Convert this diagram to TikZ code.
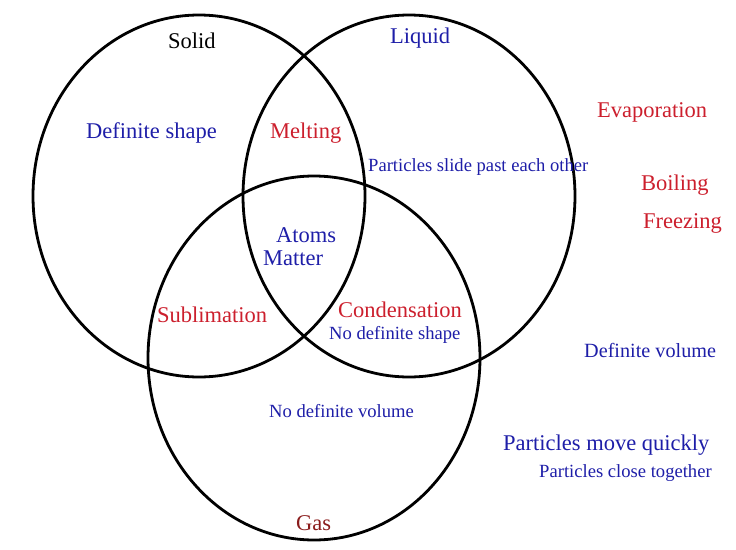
\documentclass[tikz,border=0pt]{standalone}
\usepackage{fontspec}
\usepackage{xcolor}
\usepackage{tikz}
\newfontfamily\timesfont{Liberation Serif}
\definecolor{lblblue}{HTML}{1E1EA8}
\definecolor{lblred}{HTML}{CC1F2D}
\definecolor{gasred}{HTML}{8A1C1C}

\tikzset{
  big/.style={anchor=base west, inner sep=0pt, font=\timesfont\fontsize{22.5}{24}\selectfont},
  small/.style={anchor=base west, inner sep=0pt, font=\timesfont\fontsize{18.6}{20}\selectfont},
  ring/.style={line width=2.8pt}
}

\begin{document}
\begin{tikzpicture}[x=1pt, y=-1pt]
  \useasboundingbox (0,0) rectangle (736,549);

  % the three sets
  \coordinate (solidC) at (199,196);
  \coordinate (liquidC) at (409,196);
  \coordinate (gasC) at (314,358);
  \draw[ring] (solidC) ellipse [x radius=166, y radius=181];
  \draw[ring] (liquidC) ellipse [x radius=166, y radius=181];
  \draw[ring] (gasC) ellipse [x radius=166, y radius=182];

  % set names
  \node[big] (solid) at (168,48) {Solid};
  \node[big, text=lblblue] (liquid) at (390,43) {Liquid};
  \node[big, text=gasred] (gas) at (296,530) {Gas};

  % inside the sets
  \node[big, text=lblblue] (defshape) at (86,138) {Definite shape};
  \node[big, text=lblred] (melting) at (270,138) {Melting};
  \node[small, text=lblblue] (slide) at (368,171) {Particles slide past each other};
  \node[big, text=lblblue] (atoms) at (276,242) {Atoms};
  \node[big, text=lblblue] (matter) at (263,265) {Matter};
  \node[big, text=lblred] (sublim) at (157,322) {Sublimation};
  \node[big, text=lblred] (condens) at (338,317) {Condensation};
  \node[small, text=lblblue] (nodefshape) at (329,339) {No definite shape};
  \node[small, text=lblblue] (nodefvol) at (269,417) {No definite volume};

  % words still to sort
  \node[big, text=lblred] (evap) at (597,117) {Evaporation};
  \node[big, text=lblred] (boil) at (641,190) {Boiling};
  \node[big, text=lblred] (freeze) at (643,228) {Freezing};
  \node[small, text=lblblue, font=\timesfont\fontsize{20.2}{22}\selectfont] (defvol) at (584,357) {Definite volume};
  \node[big, text=lblblue] (quick) at (503,450) {Particles move quickly};
  \node[small, text=lblblue] (close) at (539,477) {Particles close together};
\end{tikzpicture}
\end{document}
